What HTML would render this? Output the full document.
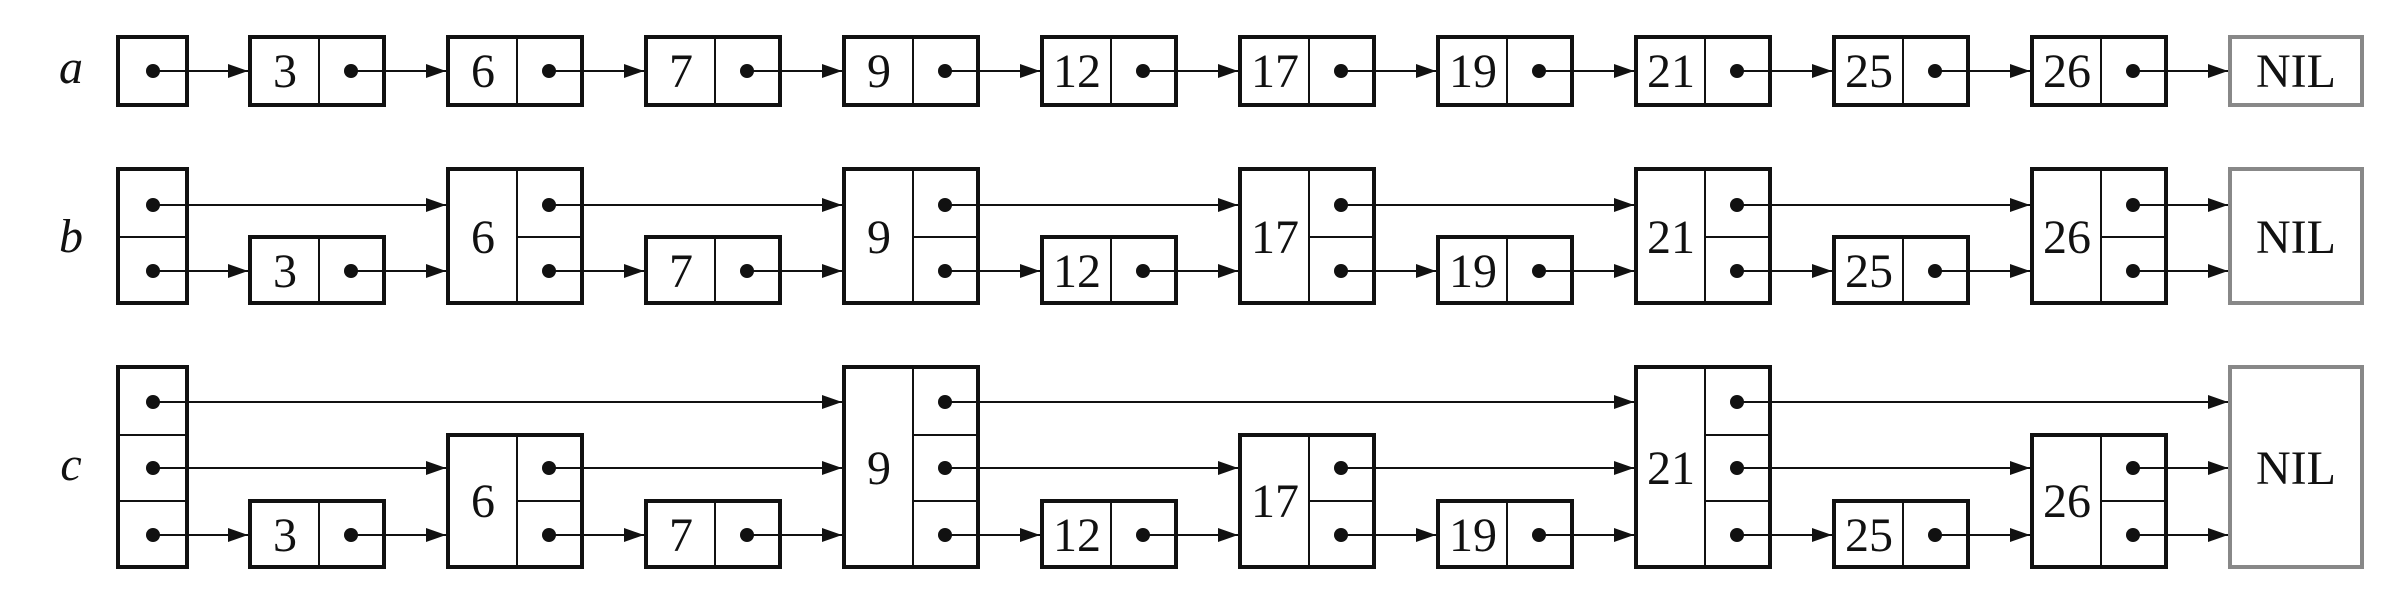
<!DOCTYPE html>
<html><head><meta charset="utf-8"><style>
html,body{margin:0;padding:0;background:#fff;}
svg{display:block}
text{font-family:"Liberation Serif",serif;font-size:48px;fill:#111;text-anchor:middle}
.lb{font-style:italic}
</style></head><body>
<svg width="2408" height="592" viewBox="0 0 2408 592" xmlns="http://www.w3.org/2000/svg">
<defs>
<marker id="ar" markerUnits="userSpaceOnUse" markerWidth="20" markerHeight="14" refX="20" refY="7" orient="auto">
<path d="M0,0 L20,7 L0,14 z" fill="#111"/>
</marker>
</defs>
<g stroke="#111" fill="none">
<!-- ROW A -->
<g stroke-width="4">
<rect x="118" y="37" width="69" height="68"/>
<rect x="250" y="37" width="134" height="68"/><rect x="448" y="37" width="134" height="68"/>
<rect x="646" y="37" width="134" height="68"/><rect x="844" y="37" width="134" height="68"/>
<rect x="1042" y="37" width="134" height="68"/><rect x="1240" y="37" width="134" height="68"/>
<rect x="1438" y="37" width="134" height="68"/><rect x="1636" y="37" width="134" height="68"/>
<rect x="1834" y="37" width="134" height="68"/><rect x="2032" y="37" width="134" height="68"/>
<rect x="2230" y="37" width="132" height="68" stroke="#888"/>
<!-- ROW B -->
<rect x="118" y="169" width="69" height="134"/>
<rect x="250" y="237" width="134" height="66"/><rect x="448" y="169" width="134" height="134"/>
<rect x="646" y="237" width="134" height="66"/><rect x="844" y="169" width="134" height="134"/>
<rect x="1042" y="237" width="134" height="66"/><rect x="1240" y="169" width="134" height="134"/>
<rect x="1438" y="237" width="134" height="66"/><rect x="1636" y="169" width="134" height="134"/>
<rect x="1834" y="237" width="134" height="66"/><rect x="2032" y="169" width="134" height="134"/>
<rect x="2230" y="169" width="132" height="134" stroke="#888"/>
<!-- ROW C -->
<rect x="118" y="367" width="69" height="200"/>
<rect x="250" y="501" width="134" height="66"/><rect x="448" y="435" width="134" height="132"/>
<rect x="646" y="501" width="134" height="66"/><rect x="844" y="367" width="134" height="200"/>
<rect x="1042" y="501" width="134" height="66"/><rect x="1240" y="435" width="134" height="132"/>
<rect x="1438" y="501" width="134" height="66"/><rect x="1636" y="367" width="134" height="200"/>
<rect x="1834" y="501" width="134" height="66"/><rect x="2032" y="435" width="134" height="132"/>
<rect x="2230" y="367" width="132" height="200" stroke="#888"/>
</g>
<g stroke-width="2">
<!-- dividers row A -->
<path d="M319,37V105 M517,37V105 M715,37V105 M913,37V105 M1111,37V105 M1309,37V105 M1507,37V105 M1705,37V105 M1903,37V105 M2101,37V105"/>
<!-- row B -->
<path d="M118,237H187 M319,237V303 M517,169V303 M517,237H582 M715,237V303 M913,169V303 M913,237H978 M1111,237V303 M1309,169V303 M1309,237H1374 M1507,237V303 M1705,169V303 M1705,237H1770 M1903,237V303 M2101,169V303 M2101,237H2166"/>
<!-- row C -->
<path d="M118,435H187 M118,501H187 M319,501V567 M517,435V567 M517,501H582 M715,501V567 M913,367V567 M913,435H978 M913,501H978 M1111,501V567 M1309,435V567 M1309,501H1374 M1507,501V567 M1705,367V567 M1705,435H1770 M1705,501H1770 M1903,501V567 M2101,435V567 M2101,501H2166"/>
</g>
<g stroke-width="2" marker-end="url(#ar)">
<!-- row A -->
<path d="M153,71H248"/><path d="M351,71H446"/><path d="M549,71H644"/><path d="M747,71H842"/><path d="M945,71H1040"/><path d="M1143,71H1238"/><path d="M1341,71H1436"/><path d="M1539,71H1634"/><path d="M1737,71H1832"/><path d="M1935,71H2030"/><path d="M2133,71H2228"/>
<!-- row B top -->
<path d="M153,205H446"/><path d="M549,205H842"/><path d="M945,205H1238"/><path d="M1341,205H1634"/><path d="M1737,205H2030"/><path d="M2133,205H2228"/>
<!-- row B bottom -->
<path d="M153,271H248"/><path d="M351,271H446"/><path d="M549,271H644"/><path d="M747,271H842"/><path d="M945,271H1040"/><path d="M1143,271H1238"/><path d="M1341,271H1436"/><path d="M1539,271H1634"/><path d="M1737,271H1832"/><path d="M1935,271H2030"/><path d="M2133,271H2228"/>
<!-- row C top -->
<path d="M153,402H842"/><path d="M945,402H1634"/><path d="M1737,402H2228"/>
<!-- row C mid -->
<path d="M153,468H446"/><path d="M549,468H842"/><path d="M945,468H1238"/><path d="M1341,468H1634"/><path d="M1737,468H2030"/><path d="M2133,468H2228"/>
<!-- row C bottom -->
<path d="M153,535H248"/><path d="M351,535H446"/><path d="M549,535H644"/><path d="M747,535H842"/><path d="M945,535H1040"/><path d="M1143,535H1238"/><path d="M1341,535H1436"/><path d="M1539,535H1634"/><path d="M1737,535H1832"/><path d="M1935,535H2030"/><path d="M2133,535H2228"/>
</g>
</g>
<g fill="#111">
<!-- dots row A -->
<circle cx="153" cy="71" r="7"/><circle cx="351" cy="71" r="7"/><circle cx="549" cy="71" r="7"/><circle cx="747" cy="71" r="7"/><circle cx="945" cy="71" r="7"/><circle cx="1143" cy="71" r="7"/><circle cx="1341" cy="71" r="7"/><circle cx="1539" cy="71" r="7"/><circle cx="1737" cy="71" r="7"/><circle cx="1935" cy="71" r="7"/><circle cx="2133" cy="71" r="7"/>
<!-- row B -->
<circle cx="153" cy="205" r="7"/><circle cx="549" cy="205" r="7"/><circle cx="945" cy="205" r="7"/><circle cx="1341" cy="205" r="7"/><circle cx="1737" cy="205" r="7"/><circle cx="2133" cy="205" r="7"/>
<circle cx="153" cy="271" r="7"/><circle cx="351" cy="271" r="7"/><circle cx="549" cy="271" r="7"/><circle cx="747" cy="271" r="7"/><circle cx="945" cy="271" r="7"/><circle cx="1143" cy="271" r="7"/><circle cx="1341" cy="271" r="7"/><circle cx="1539" cy="271" r="7"/><circle cx="1737" cy="271" r="7"/><circle cx="1935" cy="271" r="7"/><circle cx="2133" cy="271" r="7"/>
<!-- row C -->
<circle cx="153" cy="402" r="7"/><circle cx="945" cy="402" r="7"/><circle cx="1737" cy="402" r="7"/>
<circle cx="153" cy="468" r="7"/><circle cx="549" cy="468" r="7"/><circle cx="945" cy="468" r="7"/><circle cx="1341" cy="468" r="7"/><circle cx="1737" cy="468" r="7"/><circle cx="2133" cy="468" r="7"/>
<circle cx="153" cy="535" r="7"/><circle cx="351" cy="535" r="7"/><circle cx="549" cy="535" r="7"/><circle cx="747" cy="535" r="7"/><circle cx="945" cy="535" r="7"/><circle cx="1143" cy="535" r="7"/><circle cx="1341" cy="535" r="7"/><circle cx="1539" cy="535" r="7"/><circle cx="1737" cy="535" r="7"/><circle cx="1935" cy="535" r="7"/><circle cx="2133" cy="535" r="7"/>
</g>
<!-- labels -->
<text class="lb" x="71" y="83">a</text>
<text class="lb" x="71" y="252">b</text>
<text class="lb" x="71" y="480">c</text>
<!-- row A keys -->
<text x="285" y="87">3</text><text x="483" y="87">6</text><text x="681" y="87">7</text><text x="879" y="87">9</text>
<text x="1077" y="87">12</text><text x="1275" y="87">17</text><text x="1473" y="87">19</text><text x="1671" y="87">21</text>
<text x="1869" y="87">25</text><text x="2067" y="87">26</text><text x="2296" y="87">NIL</text>
<!-- row B keys -->
<text x="285" y="287">3</text><text x="483" y="253">6</text><text x="681" y="287">7</text><text x="879" y="253">9</text>
<text x="1077" y="287">12</text><text x="1275" y="253">17</text><text x="1473" y="287">19</text><text x="1671" y="253">21</text>
<text x="1869" y="287">25</text><text x="2067" y="253">26</text><text x="2296" y="253">NIL</text>
<!-- row C keys -->
<text x="285" y="551">3</text><text x="483" y="517">6</text><text x="681" y="551">7</text><text x="879" y="484">9</text>
<text x="1077" y="551">12</text><text x="1275" y="517">17</text><text x="1473" y="551">19</text><text x="1671" y="484">21</text>
<text x="1869" y="551">25</text><text x="2067" y="517">26</text><text x="2296" y="484">NIL</text>
</svg>
</body></html>
